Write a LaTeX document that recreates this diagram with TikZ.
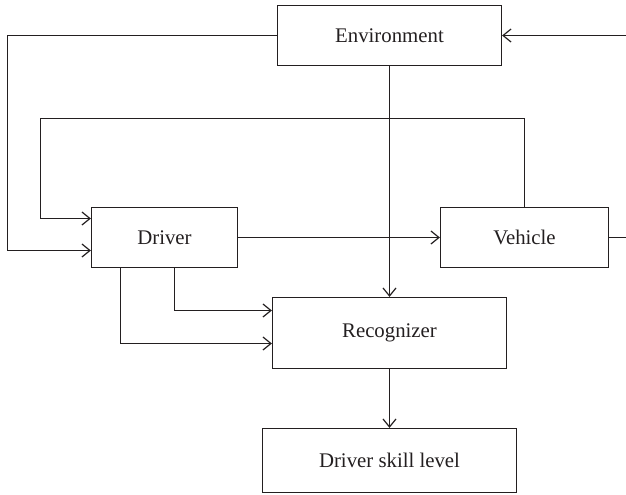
\documentclass[tikz,border=0pt]{standalone}
\usepackage{fontspec}
\setmainfont{Liberation Serif}
\usetikzlibrary{arrows.meta}
\definecolor{ink}{RGB}{35,31,32}
\tikzset{
  blk/.style={draw=ink, line width=0.6pt, inner sep=0pt, text=ink,
    font=\fontsize{10.4}{12}\selectfont},
  wire/.style={draw=ink, line width=0.6pt},
  arr/.style={wire, -{Straight Barb[length=4pt,width=6.5pt,line width=0.6pt]}}
}
\begin{document}
\begin{tikzpicture}[x=0.5pt,y=-0.5pt]
\useasboundingbox (0,0) rectangle (626,494);

% blocks
\node[blk, minimum width=112pt,   minimum height=30pt]   (env)   at (389.5,35.5)  {Environment};
\node[blk, minimum width=73pt,    minimum height=30pt]   (drv)   at (164.5,237.5) {Driver};
\node[blk, minimum width=84pt,    minimum height=30pt]   (veh)   at (524.5,237.5) {Vehicle};
\node[blk, minimum width=117pt,   minimum height=35.5pt] (rec)   at (389.5,333)   {Recognizer};
\node[blk, minimum width=127pt,   minimum height=32pt]   (skill) at (389.5,460.5) {Driver skill level};

% free ends at the right border
\coordinate (envin) at (626,35.5);
\coordinate (vehout) at (626,237.5);

% routing corners
\coordinate (lefta) at (7.5,35.5);
\coordinate (leftb) at (40.5,118.5);

% connectors
\draw[arr] (envin) -- (env.east);
\draw[arr] (env.west) -- (lefta) |- ([yshift=-6.5pt]drv.west);
\draw[arr] (veh.north) |- (leftb) |- ([yshift=9.5pt]drv.west);
\draw[arr] (drv.east) -- (veh.west);
\draw[wire] (veh.east) -- (vehout);
\draw[arr] (env.south) -- (rec.north);
\draw[arr] ([xshift=5pt]drv.south) |- ([yshift=11.25pt]rec.west);
\draw[arr] ([xshift=-22pt]drv.south) |- ([yshift=-5.25pt]rec.west);
\draw[arr] (rec.south) -- (skill.north);
\end{tikzpicture}
\end{document}
